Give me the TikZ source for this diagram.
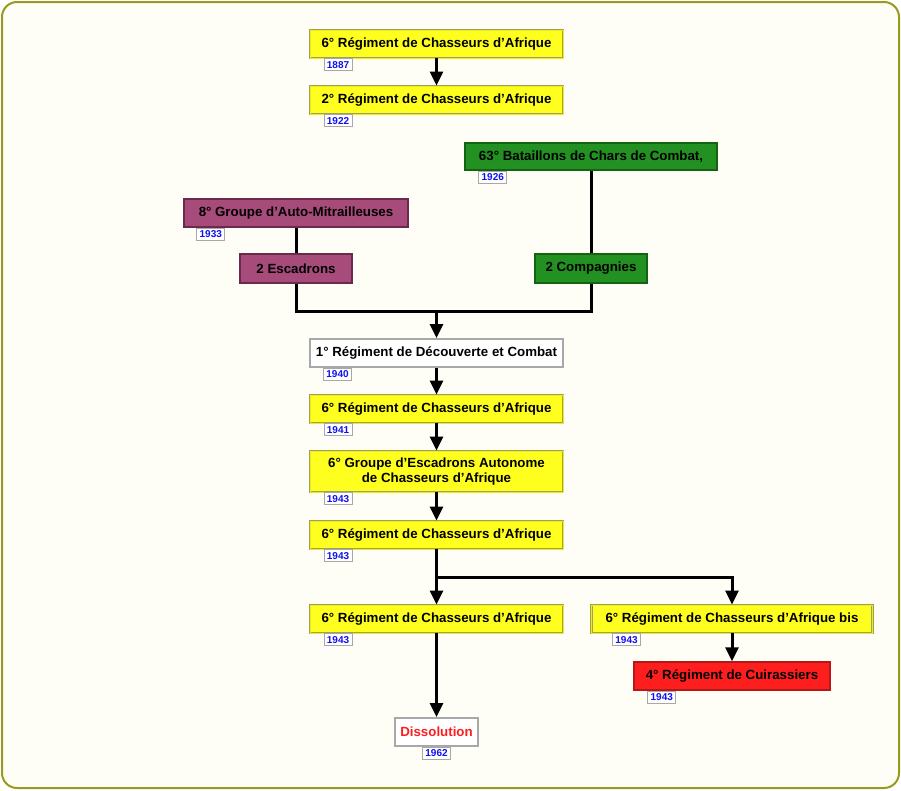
\documentclass[tikz,border=0pt]{standalone}
\usepackage{fontspec}
\setmainfont{Liberation Sans}
\usetikzlibrary{positioning,arrows.meta}
\definecolor{frameolive}{HTML}{9A9A1E}
\definecolor{framebg}{HTML}{FEFEF7}
\definecolor{jaune}{HTML}{FFFF1F}
\definecolor{jauneline}{HTML}{A0A05A}
\definecolor{mauve}{HTML}{A64B7A}
\definecolor{mauveline}{HTML}{6B2A4B}
\definecolor{vert}{HTML}{229122}
\definecolor{vertline}{HTML}{136313}
\definecolor{rouge}{HTML}{FF1E1E}
\definecolor{rougeline}{HTML}{B41818}
\definecolor{gris}{HTML}{A8A8A8}
\definecolor{bleu}{HTML}{1010F0}
\tikzset{every node/.style={font=\bfseries\fontsize{13.3}{15.5}\selectfont, align=center, inner sep=0pt, minimum height=28pt},
  jaunebox/.style={fill=jaune, draw=jauneline, line width=0.9pt, double=jaune!85!olive, double distance=0.9pt},
  mauvebox/.style={fill=mauve, draw=mauveline, line width=1.5pt},
  vertbox/.style={fill=vert, draw=vertline, line width=1.5pt},
  rougebox/.style={fill=rouge, draw=rougeline, line width=1.5pt},
  blancbox/.style={fill=white, draw=gris, line width=2pt},
  year/.style={fill=white, draw=gris, line width=1pt, text=bleu, minimum width=28pt, minimum height=12pt, font=\bfseries\fontsize{10}{10}\selectfont},
  link/.style={line width=3pt},
  flow/.style={line width=3pt, -{Triangle[length=14pt,width=13pt]}}}
\newcommand{\annee}[3]{\node[year, below right=0pt and #2 of #1.south west] (#1y) {#3};}

\begin{document}
\begin{tikzpicture}[x=1pt,y=-1pt]
   \useasboundingbox (0,0) rectangle (901,790);
   \draw[frameolive, fill=framebg, line width=2pt, rounded corners=15pt] (2,2) rectangle (899,788);
   \node[jaunebox, minimum width=253pt] (r1) at (436.5,44) {6° Régiment de Chasseurs d’Afrique};
   \node[jaunebox, minimum width=253pt] (r2) at (436.5,100) {2° Régiment de Chasseurs d’Afrique};
   \node[vertbox, minimum width=252pt, minimum height=27pt] (b63) at (591,156.5) {63° Bataillons de Chars de Combat,};
   \node[mauvebox, minimum width=224pt] (g8) at (296,213) {8° Groupe d’Auto-Mitrailleuses};
   \node[mauvebox, minimum width=112pt, minimum height=29pt] (esc) at (296,268.5) {2 Escadrons};
   \node[vertbox, minimum width=112pt, minimum height=29pt] (comp) at (591,268.5) {2 Compagnies};
   \node[blancbox, minimum width=253pt] (rdc) at (436.5,353) {1° Régiment de Découverte et Combat};
   \node[jaunebox, minimum width=253pt] (r3) at (436.5,409) {6° Régiment de Chasseurs d’Afrique};
   \node[jaunebox, minimum width=253pt, minimum height=41pt] (gea) at (436.5,471.5) {6° Groupe d’Escadrons Autonome\\de Chasseurs d’Afrique};
   \node[jaunebox, minimum width=253pt] (r4) at (436.5,535) {6° Régiment de Chasseurs d’Afrique};
   \node[jaunebox, minimum width=253pt] (r5) at (436.5,619) {6° Régiment de Chasseurs d’Afrique};
   \node[jaunebox, minimum width=281pt] (rbis) at (732,619) {6° Régiment de Chasseurs d’Afrique bis};
   \node[rougebox, minimum width=196pt] (cui) at (732,676) {4° Régiment de Cuirassiers};
   \node[blancbox, minimum width=83pt, text=rouge] (dis) at (436.5,732) {Dissolution};
   \annee{r1}{14pt}{1887}
   \annee{r2}{14pt}{1922}
   \annee{b63}{14pt}{1926}
   \annee{g8}{13pt}{1933}
   \annee{rdc}{14pt}{1940}
   \annee{r3}{14pt}{1941}
   \annee{gea}{14pt}{1943}
   \annee{r4}{14pt}{1943}
   \annee{r5}{14pt}{1943}
   \annee{rbis}{21pt}{1943}
   \annee{cui}{14pt}{1943}
   \node[year, below=0pt of dis] (disy) {1962};
   \coordinate (j) at (436.5,311);
   \coordinate (k) at (436.5,577);
   \draw[flow] (r1) -- (r2);
   \draw[link] (g8) -- (esc);
   \draw[link] (b63) -- (comp);
   \draw[link] (esc.south) |- (j) -| (comp.south);
   \draw[flow] (j) -- (rdc);
   \draw[flow] (rdc) -- (r3);
   \draw[flow] (r3) -- (gea);
   \draw[flow] (gea) -- (r4);
   \draw[flow] (r4) -- (r5);
   \draw[flow] (k) -| (rbis);
   \draw[flow] (rbis) -- (cui);
   \draw[flow] (r5) -- (dis);
\end{tikzpicture}
\end{document}
